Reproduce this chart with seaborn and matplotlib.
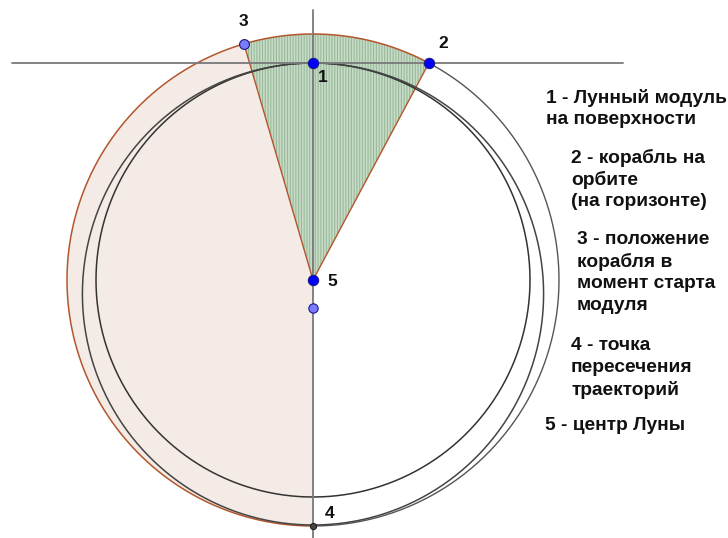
import numpy as np
import pandas as pd
import matplotlib
matplotlib.use("Agg")
import matplotlib.pyplot as plt
import seaborn as sns

# ---- geometry values (pixel-scale units, Moon centre at origin) ----
moon_radius = 217.0          # Moon surface (point 1 on top)
orbit_radius = 246.0         # ship orbit
ellipse_center_y = -14.0     # module trajectory ellipse centre
ellipse_semi_major = 231.0   # vertical
ellipse_semi_minor = 230.6   # horizontal
angle_ship_start = 106.3     # point 3, degrees
angle_bottom = 270.0         # point 4

point_names = ["1", "2", "3", "4", "5", "F"]
label_texts = [
    ["1 - Лунный модуль", "на поверхности"],
    ["2 - корабль на", "орбите", "(на горизонте)"],
    ["3 - положение", "корабля в", "момент старта", "модуля"],
    ["4 - точка", "пересечения", "траекторий"],
    ["5 - центр Луны"],
]

sns.set_style("white")
plt.rcParams['font.family'] = ['Liberation Sans', 'DejaVu Sans']

fig = plt.figure(figsize=(7.28, 5.38), dpi=100)
ax = fig.add_axes([0, 0, 1, 1])
ax.set_xlim(-313, 728 - 313)
ax.set_ylim(280 - 538, 280)
ax.set_aspect('equal', adjustable='datalim')
ax.axis('off')

# derived points
angle_2 = np.degrees(np.arccos(np.sqrt(orbit_radius**2 - moon_radius**2) / orbit_radius))
def on_orbit(a):
    return orbit_radius * np.cos(np.radians(a)), orbit_radius * np.sin(np.radians(a))
p2 = on_orbit(angle_2)
p3 = on_orbit(angle_ship_start)
p4 = on_orbit(angle_bottom)

brown = "#b3562c"
# brown sector
t = np.linspace(angle_ship_start, angle_bottom, 300)
xs = np.concatenate([[0], orbit_radius * np.cos(np.radians(t)), [0]])
ys = np.concatenate([[0], orbit_radius * np.sin(np.radians(t)), [0]])
ax.fill(xs, ys, facecolor="#f4ebe6", edgecolor="none", zorder=1)

# green hatched wedge
plt.rcParams['hatch.linewidth'] = 0.8
t = np.linspace(angle_2, angle_ship_start, 200)
xs = np.concatenate([[0], orbit_radius * np.cos(np.radians(t)), [0]])
ys = np.concatenate([[0], orbit_radius * np.sin(np.radians(t)), [0]])
ax.fill(xs, ys, facecolor="#c8dbc8", edgecolor="#98ba98", linewidth=0, hatch="||||||", zorder=2)
ax.plot([0, p3[0]], [0, p3[1]], color=brown, lw=1.0, zorder=3)
ax.plot([0, p2[0]], [0, p2[1]], color=brown, lw=1.0, zorder=3)

def curve(df, color, lw):
    sns.lineplot(data=df, x="x", y="y", sort=False, estimator=None, color=color,
                 linewidth=lw, ax=ax, zorder=4)

# orbit: brown part (left) and dark part (right)
t = np.radians(np.linspace(angle_2, angle_bottom, 400))
curve(pd.DataFrame({"x": orbit_radius * np.cos(t), "y": orbit_radius * np.sin(t)}), brown, 1.1)
t = np.radians(np.linspace(angle_bottom, angle_2 + 360, 400))
curve(pd.DataFrame({"x": orbit_radius * np.cos(t), "y": orbit_radius * np.sin(t)}), "#555555", 1.0)

# Moon
t = np.radians(np.linspace(90, 450, 720))
curve(pd.DataFrame({"x": moon_radius * np.cos(t), "y": moon_radius * np.sin(t)}), "#333333", 1.1)
# module trajectory ellipse
curve(pd.DataFrame({"x": ellipse_semi_minor * np.cos(t),
                    "y": ellipse_center_y + ellipse_semi_major * np.sin(t)}), "#444444", 1.1)

# axes lines
ax.plot([12 - 313, 623 - 313], [moon_radius, moon_radius], color="#7a7a7a", lw=1.3, zorder=5)
ax.plot([0, 0], [270, -260], color="#7a7a7a", lw=1.3, zorder=5)

# points
focus_y = 2 * ellipse_center_y
pts = pd.DataFrame({
    "name": point_names,
    "x": [0, p2[0], p3[0], p4[0], 0, 0],
    "y": [moon_radius, p2[1], p3[1], p4[1], 0, focus_y],
})
colors = {"1": "#0000ff", "2": "#0000ff", "3": "#7b7bff", "4": "#444444", "5": "#0000ff", "F": "#7b7bff"}
sizes = {"1": 55, "2": 55, "3": 50, "4": 20, "5": 55, "F": 45}
for _, r in pts.iterrows():
    sns.scatterplot(x=[r.x], y=[r.y], color=colors[r["name"]], s=sizes[r["name"]],
                    edgecolor="#1a1a80" if r["name"] != "4" else "#222222", linewidth=0.8,
                    ax=ax, zorder=7, legend=False)

# point labels
lab_off = {"1": (10, -14), "2": (14, 19), "3": (-1, 22), "4": (17, 12), "5": (19, -1)}
for _, r in pts.iterrows():
    if r["name"] in lab_off:
        dx, dy = lab_off[r["name"]]
        ax.text(r.x + dx, r.y + dy, r["name"], fontsize=12.5, fontweight='bold',
                ha='center', va='center', color="#111111", zorder=8)

# legend text blocks (pixel positions)
block_x = [546, 571, 577, 571, 545]
block_y = [98, 158, 240, 346, 425]
line_h = 21.8
for lines, bx, by in zip(label_texts, block_x, block_y):
    for i, ln in enumerate(lines):
        ax.text(bx - 313, 280 - (by + i * line_h), ln, fontsize=13.8, fontweight='bold',
                ha='left', va='center', color="#111111", zorder=8)

fig.savefig("out.png", dpi=100)
